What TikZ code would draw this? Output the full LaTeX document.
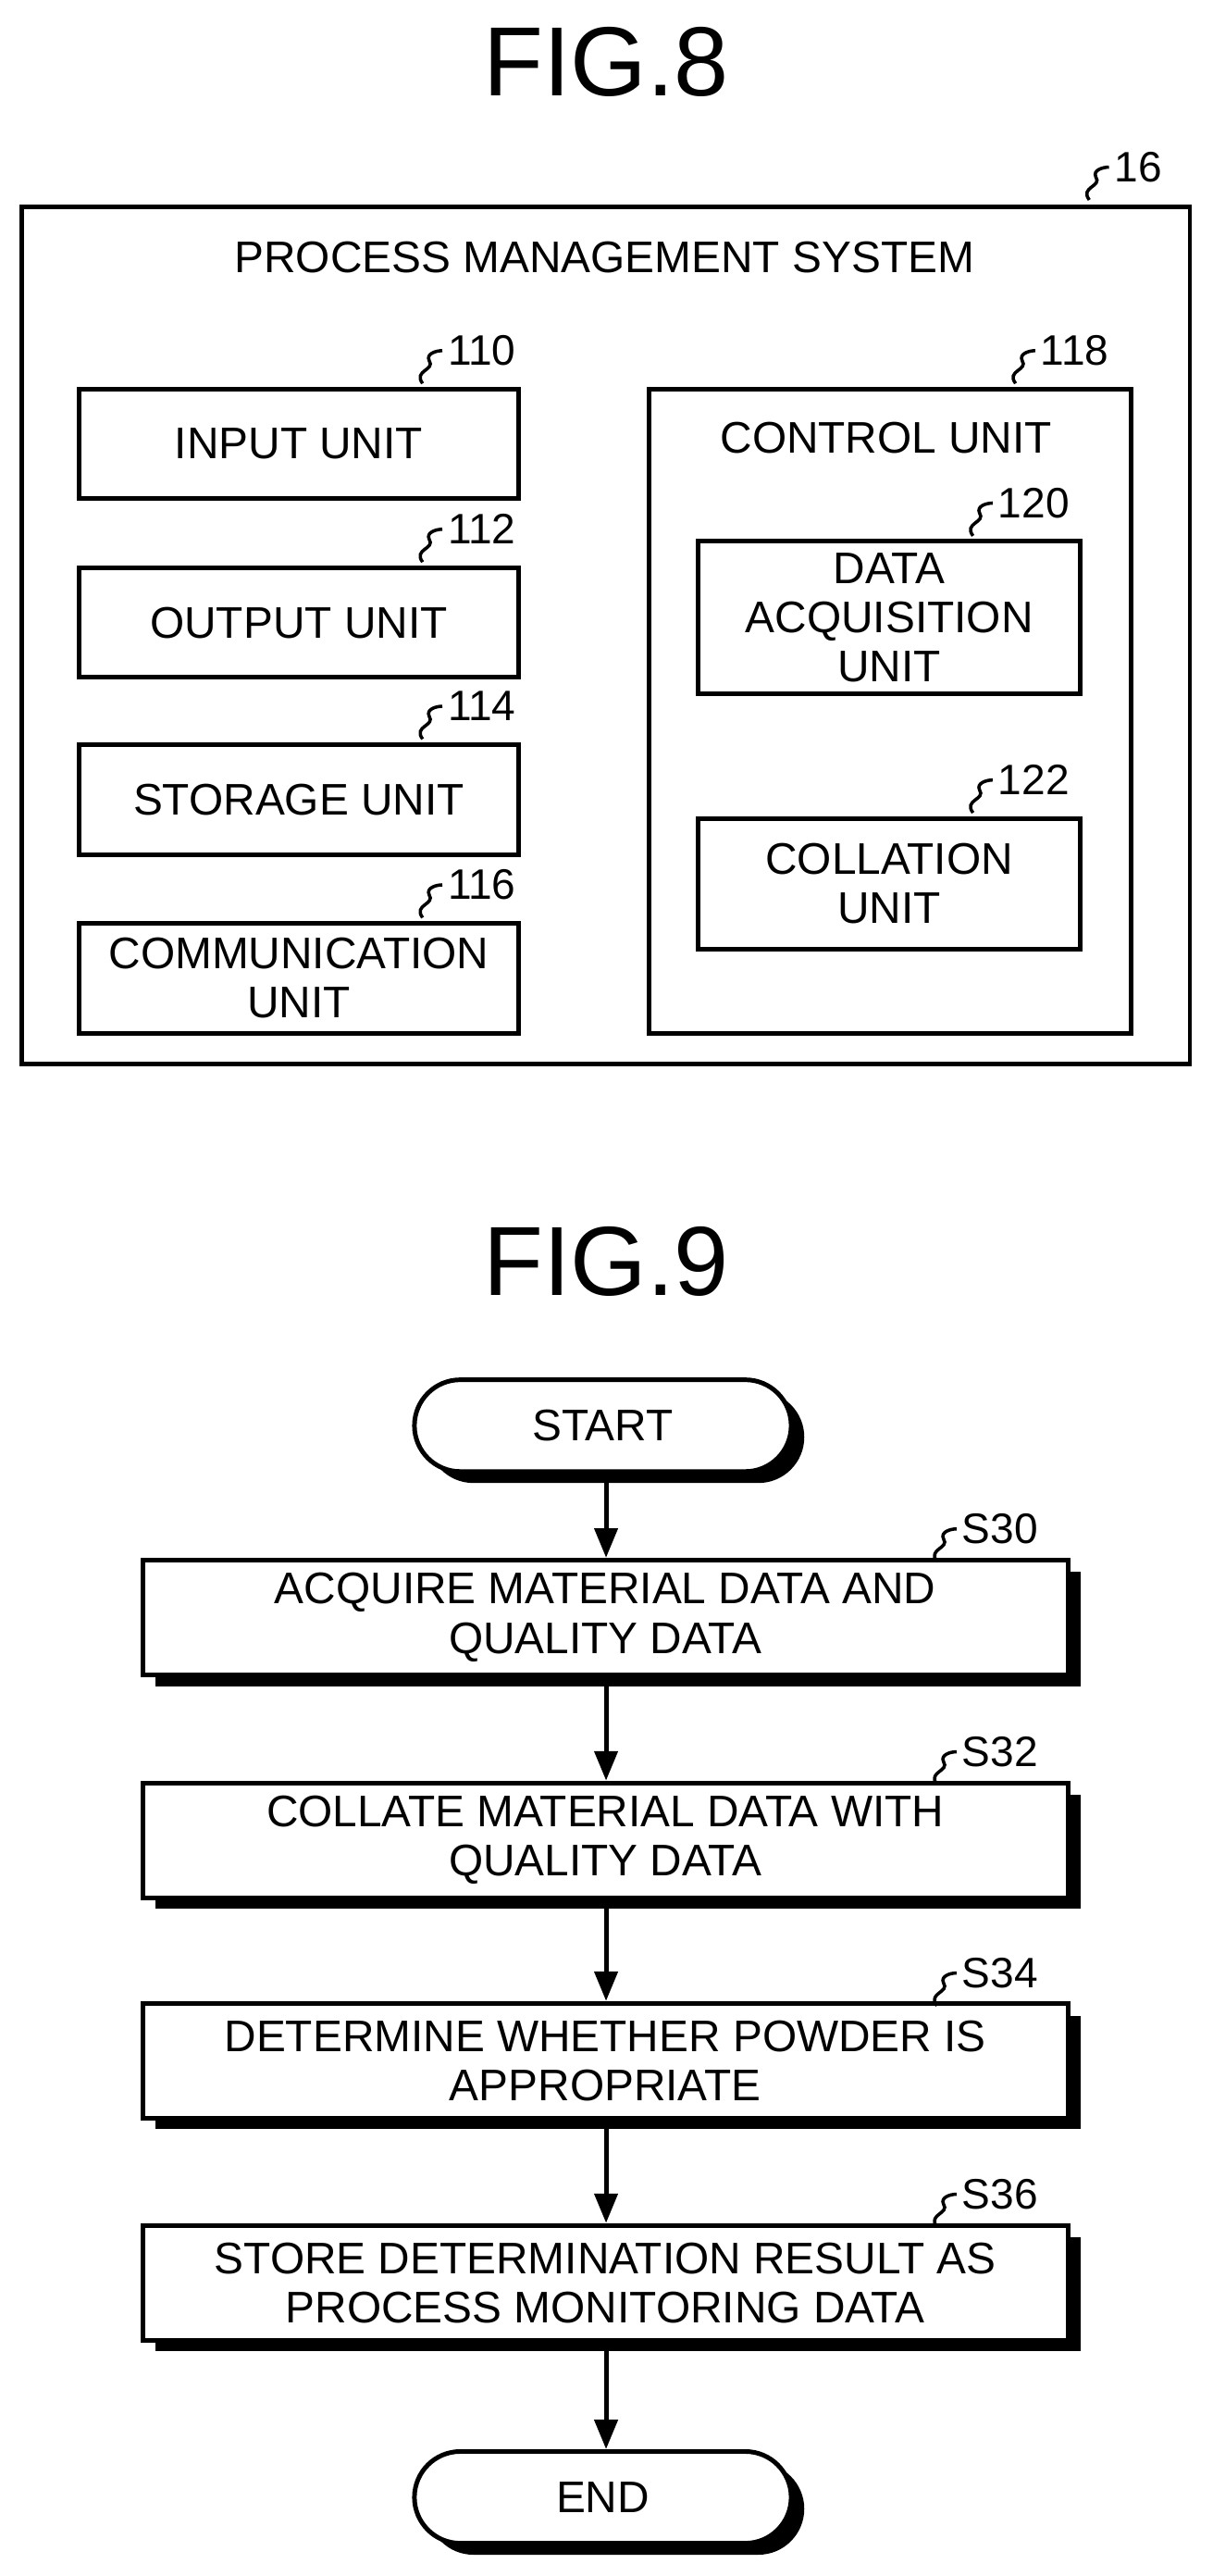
\documentclass[tikz,border=0pt]{standalone}
\usepackage{fontspec}
\setmainfont{Liberation Sans}
\usetikzlibrary{arrows.meta}
\newcommand{\refnum}[3]{%
  \draw[line width=1pt] (#1,#2) .. controls (#1-6,#2-8) and (#1+8,#2-8) .. (#1+4,#2-14) .. controls (#1+2,#2-18) and (#1+8,#2-20) .. (#1+12,#2-20);
  \node[anchor=west,inner sep=1pt,font=\fontsize{13}{15}\selectfont] at (#1+12,#2-20) {#3};}
\begin{document}
\begin{tikzpicture}[x=0.5pt,y=-0.5pt,line width=1.4pt,
  box/.style={draw,fill=white,align=center,font=\fontsize{13.5}{15}\selectfont,inner sep=0},
  txt/.style={font=\fontsize{13.5}{15}\selectfont,align=center},
  ttl/.style={font=\fontsize{30}{32}\selectfont},
  arr/.style={-{Triangle[length=9pt,width=7pt]},line width=1.4pt},
  term/.style={box,rounded corners=14pt,minimum width=115pt,minimum height=28pt},
  stepbox/.style={box,minimum width=282.5pt,minimum height=35pt}]
\useasboundingbox (0,0) rectangle (740,1572);
% FIG.8
\node[ttl] (f8) at (370,38) {FIG.8};
\node[draw,minimum width=356.5pt,minimum height=261.5pt,anchor=north west] (sys) at (12,125) {};
\refnum{665}{122}{16}
\node[txt] (pms) at (369,157) {PROCESS MANAGEMENT SYSTEM};
\foreach \n/\y/\t/\r in {in/236/INPUT UNIT/110,out/345/OUTPUT UNIT/112,st/453/STORAGE UNIT/114,com/562/COMMUNICATION\\UNIT/116}{
  \node[box,minimum width=134pt,minimum height=33.5pt,anchor=north west] (\n) at (47,\y) {\t};
  \refnum{258}{\y-2}{\r}
}
\node[draw,minimum width=147pt,minimum height=196.5pt,anchor=north west] (ctl) at (395,236) {};
\refnum{620}{234}{118}
\node[txt] (ctlt) at (541,267) {CONTROL UNIT};
\node[box,minimum width=116.5pt,minimum height=46.5pt,anchor=north west] (da) at (425,329) {DATA\\ACQUISITION\\UNIT};
\refnum{594}{327}{120}
\node[box,minimum width=116.5pt,minimum height=40pt,anchor=north west] (col) at (425,498) {COLLATION\\UNIT};
\refnum{594}{496}{122}
% FIG.9
\node[ttl] (f9) at (370,770) {FIG.9};
\fill[rounded corners=14pt] (261,849) rectangle (491,905);
\node[term] (start) at (368,870) {START};
\fill (95,959) rectangle (660,1029);
\node[stepbox] (s30) at (369.5,987) {ACQUIRE MATERIAL DATA AND\\QUALITY DATA};
\refnum{572}{953}{S30}
\fill (95,1095) rectangle (660,1165);
\node[stepbox] (s32) at (369.5,1123) {COLLATE MATERIAL DATA WITH\\QUALITY DATA};
\refnum{572}{1089}{S32}
\fill (95,1230) rectangle (660,1299);
\node[stepbox] (s34) at (369.5,1257.5) {DETERMINE WHETHER POWDER IS\\APPROPRIATE};
\refnum{572}{1224}{S34}
\fill (95,1365) rectangle (660,1435);
\node[stepbox] (s36) at (369.5,1393) {STORE DETERMINATION RESULT AS\\PROCESS MONITORING DATA};
\refnum{572}{1359}{S36}
\fill[rounded corners=14pt] (261,1503) rectangle (491,1559);
\node[term] (end) at (368,1524) {END};
\draw[arr] (start.south -| 370,0) ++(0,4) -- (s30.north -| 370,0);
\draw[arr] (s30.south -| 370,0) ++(0,4) -- (s32.north -| 370,0);
\draw[arr] (s32.south -| 370,0) ++(0,4) -- (s34.north -| 370,0);
\draw[arr] (s34.south -| 370,0) ++(0,4) -- (s36.north -| 370,0);
\draw[arr] (s36.south -| 370,0) ++(0,4) -- (end.north -| 370,0);
\end{tikzpicture}
\end{document}
